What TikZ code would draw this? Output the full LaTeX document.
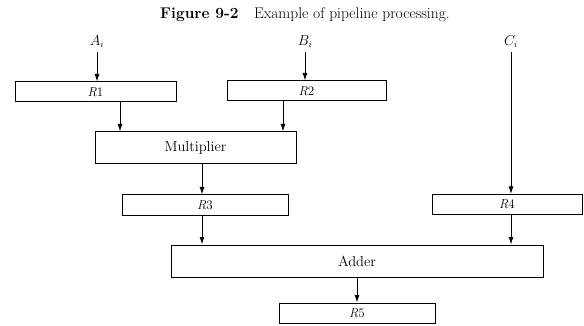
\documentclass[tikz,border=0pt]{standalone}
\usetikzlibrary{arrows.meta}

\begin{document}
\begin{tikzpicture}[x=1pt,y=-1pt,
  reg/.style={draw,line width=1pt,minimum height=20pt,inner sep=0pt,font=\fontsize{13}{15}\selectfont},
  unit/.style={reg,minimum height=32pt,font=\fontsize{14.5}{16}\selectfont},
  flow/.style={-{Latex[length=7.5pt,width=5pt]},line width=1pt}]
\useasboundingbox[fill=white] (0,0) rectangle (584,326);

% Title
\node[font=\fontsize{15.5}{17}\selectfont] (title) at (305,15) {\textbf{Figure 9-2}\quad Example of pipeline processing.};

% Inputs
\node[font=\fontsize{13.5}{15}\selectfont] (Ai) at (97,42) {$A_i$};
\node[font=\fontsize{13.5}{15}\selectfont] (Bi) at (305,42) {$B_i$};
\node[font=\fontsize{13.5}{15}\selectfont] (Ci) at (511,42) {$C_i$};

% Registers and units
\node[reg,minimum width=161pt] (R1) at (95.5,92) {\textit{R}1};
\node[reg,minimum width=159pt] (R2) at (306.5,91) {\textit{R}2};
\node[unit,minimum width=201pt] (mult) at (195.5,148) {Multiplier};
\node[reg,minimum width=166pt] (R3) at (205,205) {\textit{R}3};
\node[reg,minimum width=150pt] (R4) at (507,204.5) {\textit{R}4};
\node[unit,minimum width=372pt] (adder) at (357,261) {Adder};
\node[reg,minimum width=156pt] (R5) at (357,313) {\textit{R}5};

% Taps
\coordinate (t1) at (120,0);
\coordinate (t2) at (283,0);
\coordinate (t3) at (202,0);
\coordinate (t4) at (511,0);

% Connections
\draw[flow] (Ai.south) -- (Ai.south |- R1.north);
\draw[flow] (Bi.south) -- (Bi.south |- R2.north);
\draw[flow] (Ci.south) -- (Ci.south |- R4.north);
\draw[flow] (t1 |- R1.south) -- (t1 |- mult.north);
\draw[flow] (t2 |- R2.south) -- (t2 |- mult.north);
\draw[flow] (t3 |- mult.south) -- (t3 |- R3.north);
\draw[flow] (t3 |- R3.south) -- (t3 |- adder.north);
\draw[flow] (t4 |- R4.south) -- (t4 |- adder.north);
\draw[flow] (adder.south) -- (R5.north);

\end{tikzpicture}
\end{document}
